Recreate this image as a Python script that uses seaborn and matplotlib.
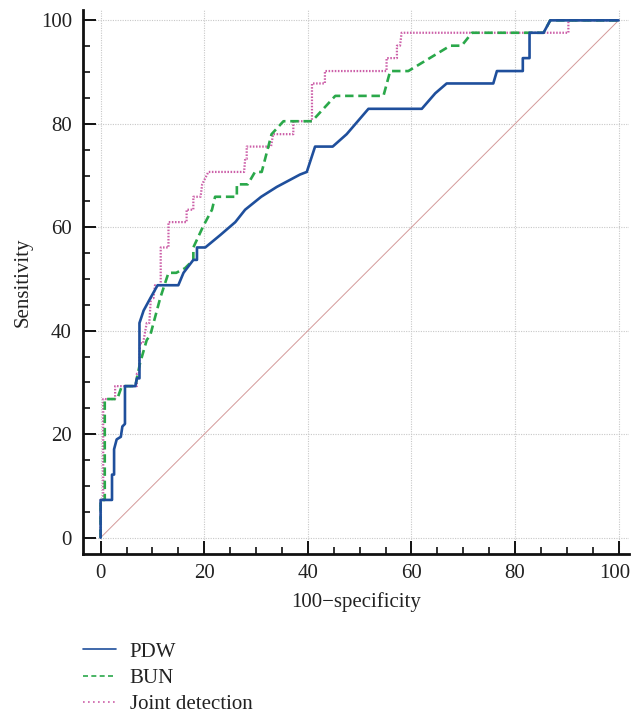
import matplotlib
matplotlib.use("Agg")
import matplotlib.pyplot as plt
import matplotlib.transforms as mtransforms
import seaborn as sns
import pandas as pd
from matplotlib.lines import Line2D

# ---- data ----
pdw_x = [0, 0, 2.2, 2.2, 2.6, 2.6, 3.1, 3.9, 4.2, 4.7, 4.7, 6.7, 7.0, 7.5, 7.5, 8.3, 9.6, 11.0,
         15.0, 16.0, 17.9, 18.6, 18.6, 20.2, 23.1, 26.0, 27.9, 31.0, 34.0, 38.5, 39.8, 41.4, 41.4,
         44.8, 47.5, 51.7, 62.0, 64.6, 66.8, 75.8, 76.5, 81.5, 81.5, 82.8, 82.8, 85.5, 86.8, 100]
pdw_y = [0, 7.3, 7.3, 12.2, 12.2, 17.1, 19.0, 19.5, 21.5, 22.0, 29.3, 29.3, 30.8, 30.8, 41.5, 43.9,
         46.3, 48.8, 48.8, 51.2, 53.7, 53.7, 56.1, 56.1, 58.5, 61.0, 63.4, 65.9, 67.8, 70.2, 70.7,
         75.6, 75.6, 75.6, 78.0, 82.9, 82.9, 85.9, 87.8, 87.8, 90.2, 90.2, 92.7, 92.7, 97.6, 97.6,
         100, 100]

bun_x = [0, 0, 0.8, 0.8, 3.2, 4.1, 6.7, 7.6, 8.9, 9.6, 11.5, 13.1, 14.6, 16.3, 17.9, 17.9, 19.8,
         21.5, 22.1, 26.3, 26.3, 28.4, 29.8, 31.1, 33.0, 35.3, 40.8, 45.3, 54.6, 55.9, 59.4, 67.5,
         69.7, 71.7, 85.5, 86.8, 100]
bun_y = [0, 7.3, 7.3, 26.8, 26.8, 29.3, 29.3, 33.7, 38.2, 39.2, 46.3, 51.2, 51.2, 52.1, 53.7,
         56.1, 60.2, 63.4, 65.9, 65.9, 68.3, 68.3, 70.7, 70.7, 78.0, 80.5, 80.5, 85.4, 85.4, 90.2,
         90.2, 95.1, 95.1, 97.6, 97.6, 100, 100]

jd_x = [0, 0, 0.5, 0.5, 2.8, 2.8, 7.0, 7.0, 7.4, 7.6, 8.2, 8.9, 9.4, 9.7, 10.2, 10.5, 11.6, 11.6,
        13.1, 13.1, 16.6, 16.6, 17.9, 17.9, 19.3, 19.6, 20.8, 27.7, 27.9, 28.2, 28.2, 32.9, 33.3,
        37.2, 37.2, 40.8, 40.8, 43.3, 43.3, 55.2, 55.2, 57.2, 57.2, 57.8, 58.1, 90.3, 90.3, 100]
jd_y = [0, 7.3, 7.3, 26.8, 26.8, 29.3, 29.3, 31.7, 31.7, 37.6, 37.6, 41.5, 41.5, 46.3, 46.3,
        48.8, 48.8, 56.1, 56.1, 61.0, 61.0, 63.4, 63.4, 65.9, 65.9, 68.3, 70.7, 70.7, 73.2, 73.2,
        75.6, 75.6, 78.0, 78.0, 80.5, 80.5, 87.8, 87.8, 90.2, 90.2, 92.7, 92.7, 95.1, 95.1, 97.6,
        97.6, 100, 100]

ref_x = [0, 100]
ref_y = [0, 100]

series_names = ["PDW", "BUN", "Joint detection"]
x_ticks = [0, 20, 40, 60, 80, 100]
y_ticks = [0, 20, 40, 60, 80, 100]

# ---- styling ----
sns.set_theme(style="ticks")
plt.rcParams["font.family"] = ["Liberation Serif", "DejaVu Serif"]
plt.rcParams["axes.unicode_minus"] = True

FS = 15

colors = {"PDW": "#1f4f9c", "BUN": "#2aa84a", "Joint detection": "#cc5fa8"}
dashes = {"PDW": "", "BUN": (3.2, 1.8), "Joint detection": (0.7, 0.7)}
widths = {"PDW": 1.9, "BUN": 1.9, "Joint detection": 1.6}

frames = []
for name, xs, ys in [("PDW", pdw_x, pdw_y), ("BUN", bun_x, bun_y), ("Joint detection", jd_x, jd_y)]:
    frames.append(pd.DataFrame({"x": xs, "y": ys, "test": name, "order": range(len(xs))}))
df = pd.concat(frames, ignore_index=True)

fig = plt.figure(figsize=(6.32, 7.18), dpi=100)
ax = fig.add_axes([83 / 632, 164 / 718, (629 - 83) / 632, (554 - 10) / 718])

ax.set_xlim(-3.4, 102)
ax.set_ylim(-3.15, 102)

ax.set_xticks(x_ticks)
ax.set_yticks(y_ticks)
ax.set_xticks(range(0, 101, 5), minor=True)
ax.set_yticks(range(0, 101, 5), minor=True)
ax.grid(True, which="major", linestyle=(0, (1, 1.2)), color="#c8c8c8", linewidth=0.8)
ax.set_axisbelow(True)

sns.lineplot(x=ref_x, y=ref_y, ax=ax, color="#d49a9a", linewidth=0.7, legend=False)

for name in ["Joint detection", "BUN", "PDW"]:
    sub = df[df["test"] == name]
    sns.lineplot(data=sub, x="x", y="y", sort=False, estimator=None, ax=ax,
                 color=colors[name], linewidth=widths[name], legend=False)
    line = ax.lines[-1]
    if dashes[name]:
        line.set_dashes(dashes[name])

for s in ["top", "right"]:
    ax.spines[s].set_visible(False)
for s in ["left", "bottom"]:
    ax.spines[s].set_linewidth(2.0)
    ax.spines[s].set_color("#111111")

ax.tick_params(axis="both", which="both", bottom=True, left=True, top=False, right=False)
ax.tick_params(axis="both", which="major", direction="in", length=9.5, width=1.4,
               color="#111111", labelsize=FS, pad=8, labelcolor="#222222")
ax.tick_params(axis="both", which="minor", direction="in", length=5, width=1.2, color="#111111")
ax.tick_params(axis="x", which="major", pad=7)

# keep the last x tick label inside the canvas
last = ax.get_xticklabels()[-1]
last.set_transform(last.get_transform() + mtransforms.ScaledTranslation(-4 / 100, 0, fig.dpi_scale_trans))

ax.set_xlabel("100\u2212specificity", fontsize=FS, color="#222222", labelpad=7)
ax.set_ylabel("Sensitivity", fontsize=FS, color="#222222", labelpad=6)

handles = [Line2D([0], [0], color=colors[n], linewidth=1.2,
                  linestyle="-" if n == "PDW" else ((0, (3, 2)) if n == "BUN" else (0, (1, 2))))
           for n in series_names]
fig.legend(handles, series_names, loc="upper left", bbox_to_anchor=(83 / 632, 1 - 642 / 718),
           frameon=False, fontsize=FS, handlelength=1.6, handletextpad=0.65,
           labelspacing=0.32, borderpad=0, borderaxespad=0, labelcolor="#222222")

fig.savefig("out.png", dpi=100)
